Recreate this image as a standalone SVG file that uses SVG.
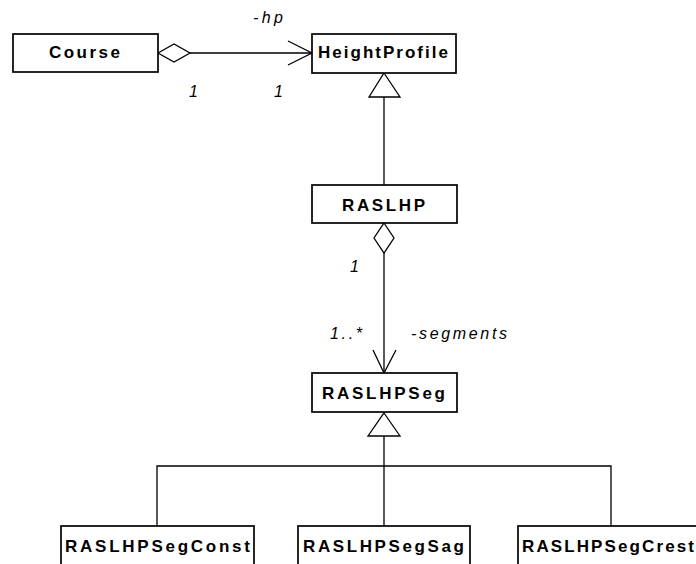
<svg xmlns="http://www.w3.org/2000/svg" width="696" height="564" viewBox="0 0 696 564">
  <style>
    .box { fill: #fff; stroke: #000; stroke-width: 1.7; }
    .name { font-family: "Liberation Sans", Arial, sans-serif; font-weight: bold; font-size: 17px; fill: #000; }
    .lbl { font-family: "Liberation Sans", Arial, sans-serif; font-style: italic; font-size: 16px; fill: #000; }
    .ln { fill: none; stroke: #000; stroke-width: 1.3; }
    .hollow { fill: #fff; stroke: #000; stroke-width: 1.3; }
  </style>
  <rect width="696" height="564" fill="#fff"/>

  <g id="connectors">
    <!-- Course <>-> HeightProfile -->
    <polygon class="hollow" points="158,53 174,44 190,53 174,62"/>
    <line class="ln" x1="190" y1="53" x2="312" y2="53"/>
    <polyline class="ln" points="288,41 312,53 288,65"/>
    <!-- RASLHP generalizes HeightProfile -->
    <line class="ln" x1="384" y1="97" x2="384" y2="185"/>
    <polygon class="hollow" points="384,73 400,97 369,97"/>
    <!-- RASLHP <>-> RASLHPSeg -->
    <polygon class="hollow" points="384,223 394,238 384,253 374,238"/>
    <line class="ln" x1="384" y1="253" x2="384" y2="373"/>
    <polyline class="ln" points="373,350 384,373 396,350"/>
    <!-- segment subclasses -->
    <line class="ln" x1="384" y1="436" x2="384" y2="526"/>
    <polyline class="ln" points="157,526 157,466 611,466 611,526"/>
    <polygon class="hollow" points="384,413 400,436 368,436"/>
    <!-- labels -->
    <text class="lbl" x="253" y="23" textLength="30" lengthAdjust="spacing">-hp</text>
    <text class="lbl" x="189" y="97">1</text>
    <text class="lbl" x="274" y="97">1</text>
    <text class="lbl" x="350" y="272">1</text>
    <text class="lbl" x="330" y="339" textLength="32" lengthAdjust="spacing">1..*</text>
    <text class="lbl" x="411" y="339" textLength="96" lengthAdjust="spacing">-segments</text>
  </g>

  <g id="Course">
    <rect class="box" x="13" y="34" width="145" height="38"/>
    <text class="name" x="49" y="58" textLength="71" lengthAdjust="spacing">Course</text>
  </g>
  <g id="HeightProfile">
    <rect class="box" x="312" y="34" width="144" height="39"/>
    <text class="name" x="318" y="58" textLength="130" lengthAdjust="spacing">HeightProfile</text>
  </g>
  <g id="RASLHP">
    <rect class="box" x="312" y="185" width="145" height="38"/>
    <text class="name" x="342" y="211" textLength="83" lengthAdjust="spacing">RASLHP</text>
  </g>
  <g id="RASLHPSeg">
    <rect class="box" x="312" y="373" width="145" height="39"/>
    <text class="name" x="322" y="399" textLength="123" lengthAdjust="spacing">RASLHPSeg</text>
  </g>
  <g id="RASLHPSegConst">
    <rect class="box" x="61" y="526" width="193" height="44"/>
    <text class="name" x="65" y="552" textLength="185" lengthAdjust="spacing">RASLHPSegConst</text>
  </g>
  <g id="RASLHPSegSag">
    <rect class="box" x="298" y="526" width="172" height="44"/>
    <text class="name" x="303" y="552" textLength="161" lengthAdjust="spacing">RASLHPSegSag</text>
  </g>
  <g id="RASLHPSegCrest">
    <rect class="box" x="518" y="526" width="186" height="44"/>
    <text class="name" x="522" y="552" textLength="172" lengthAdjust="spacing">RASLHPSegCrest</text>
  </g>
</svg>
